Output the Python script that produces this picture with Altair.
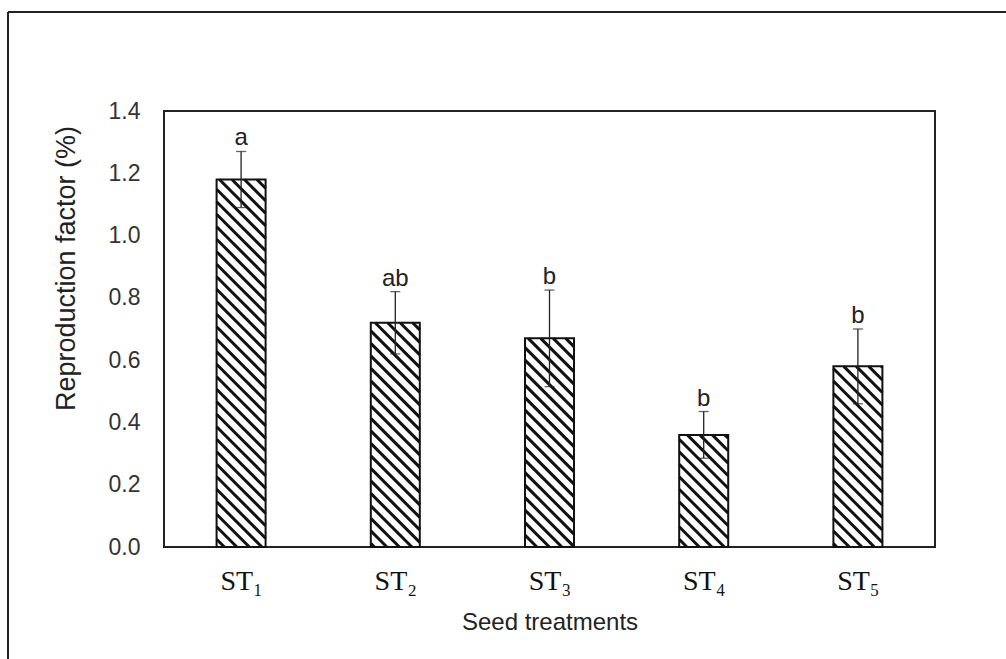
import altair as alt
import numpy as np
import pandas as pd

# Seed treatment results: mean reproduction factor, error and significance letters
treatments = ["ST1", "ST2", "ST3", "ST4", "ST5"]
tick_labels = ["ST\u2081", "ST\u2082", "ST\u2083", "ST\u2084", "ST\u2085"]
means = [1.18, 0.72, 0.67, 0.36, 0.58]
errors = [0.09, 0.10, 0.155, 0.075, 0.12]
letters = ["a", "ab", "b", "b", "b"]
y_ticks = [0.0, 0.2, 0.4, 0.6, 0.8, 1.0, 1.2, 1.4]

PLOT_W, PLOT_H = 771, 436
X_DOMAIN = [0.5, 5.5]
Y_DOMAIN = [0.0, 1.4]
KX = PLOT_W / (X_DOMAIN[1] - X_DOMAIN[0])   # pixels per x unit
KY = PLOT_H / (Y_DOMAIN[1] - Y_DOMAIN[0])   # pixels per y unit
HALF = 24.5 / KX                            # half bar width in x units
HATCH_STEP = 12.5                           # vertical hatch period in pixels

pos = list(range(1, len(treatments) + 1))
bars = pd.DataFrame({
    "pos": pos,
    "left": [p - HALF for p in pos],
    "right": [p + HALF for p in pos],
    "base": [0.0] * len(pos),
    "mean": means,
    "lo": [m - e for m, e in zip(means, errors)],
    "hi": [m + e for m, e in zip(means, errors)],
    "letter": letters,
})

# Diagonal hatch segments (top-left to bottom-right), clipped to each bar
rows = []
for p, m in zip(pos, means):
    L, R = (p - HALF) * KX, (p + HALF) * KX
    B, T = 0.0, m * KY
    for k in range(int(np.ceil((L + B) / HATCH_STEP)), int(np.floor((R + T) / HATCH_STEP)) + 1):
        c = k * HATCH_STEP
        x1, x2 = max(L, c - T), min(R, c - B)
        if x2 - x1 < 0.5:
            continue
        rows.append({"hx": x1 / KX, "hy": (c - x1) / KY, "hx2": x2 / KX, "hy2": (c - x2) / KY})
hatch = pd.DataFrame(rows)

label_expr = "[" + ",".join("'%s'" % t for t in tick_labels) + "][datum.value - 1]"

x_axis = alt.Axis(values=pos, labelExpr=label_expr, title="Seed treatments",
                  grid=False, domain=False, ticks=False,
                  labelFont="Liberation Serif", labelFontSize=28, labelColor="#111",
                  labelPadding=20, titleFont="Liberation Sans", titleFontSize=24,
                  titleFontWeight="normal", titleColor="#222", titleY=75,
                  titleBaseline="middle")
y_axis = alt.Axis(values=y_ticks, format=".1f", title="Reproduction  factor (%)",
                  grid=False, domain=False, ticks=False,
                  labelFont="Liberation Sans", labelFontSize=23, labelColor="#333",
                  labelPadding=24, titleFont="Liberation Sans", titleFontSize=27,
                  titleFontWeight="normal", titleColor="#222", titleX=-98, titleY=157,
                  titleAlign="center", titleBaseline="middle")

x_scale = alt.Scale(domain=X_DOMAIN, nice=False, zero=False)
y_scale = alt.Scale(domain=Y_DOMAIN, nice=False)


def X(field):
    return alt.X(field, type="quantitative", scale=x_scale, axis=x_axis)


def Y(field):
    return alt.Y(field, type="quantitative", scale=y_scale, axis=y_axis)


base = alt.Chart(bars)

bar_fill = base.mark_rect(fill="white").encode(
    x=X("left"), x2="right", y=Y("mean"), y2="base")

hatch_lines = alt.Chart(hatch).mark_rule(color="#111", strokeWidth=3, strokeCap="butt").encode(
    x=X("hx"), x2="hx2", y=Y("hy"), y2="hy2")

bar_outline = base.mark_rect(fillOpacity=0, stroke="#111", strokeWidth=2).encode(
    x=X("left"), x2="right", y=Y("mean"), y2="base")

err_line = base.mark_rule(color="#222", strokeWidth=1.3).encode(
    x=X("pos"), y=Y("lo"), y2="hi")

err_top = base.mark_tick(orient="horizontal", color="#222", size=10, thickness=1.3).encode(
    x=X("pos"), y=Y("hi"))
err_bottom = base.mark_tick(orient="horizontal", color="#222", size=10, thickness=1.3).encode(
    x=X("pos"), y=Y("lo"))

sig_letters = base.mark_text(font="Liberation Sans", fontSize=24, color="#222",
                             baseline="bottom", dy=-1).encode(
    x=X("pos"), y=Y("hi"), text="letter")

frame_data = alt.Chart(pd.DataFrame({"k": [0]}))
frame_top = frame_data.mark_rule(color="#222", strokeWidth=2).encode(
    x=alt.value(-156), x2=alt.value(860), y=alt.value(-99))
frame_left = frame_data.mark_rule(color="#222", strokeWidth=2).encode(
    x=alt.value(-156), y=alt.value(-99), y2=alt.value(560))

chart = alt.layer(
    bar_fill, hatch_lines, bar_outline, err_line, err_top, err_bottom, sig_letters,
    frame_top, frame_left,
).properties(
    width=PLOT_W, height=PLOT_H,
    padding={"left": 164, "top": 111, "right": 71, "bottom": 112},
    autosize="none",
    background="white",
).configure_view(stroke="#222", strokeWidth=2)

chart.save("out.html", embed_options={"renderer": "svg", "actions": False})
